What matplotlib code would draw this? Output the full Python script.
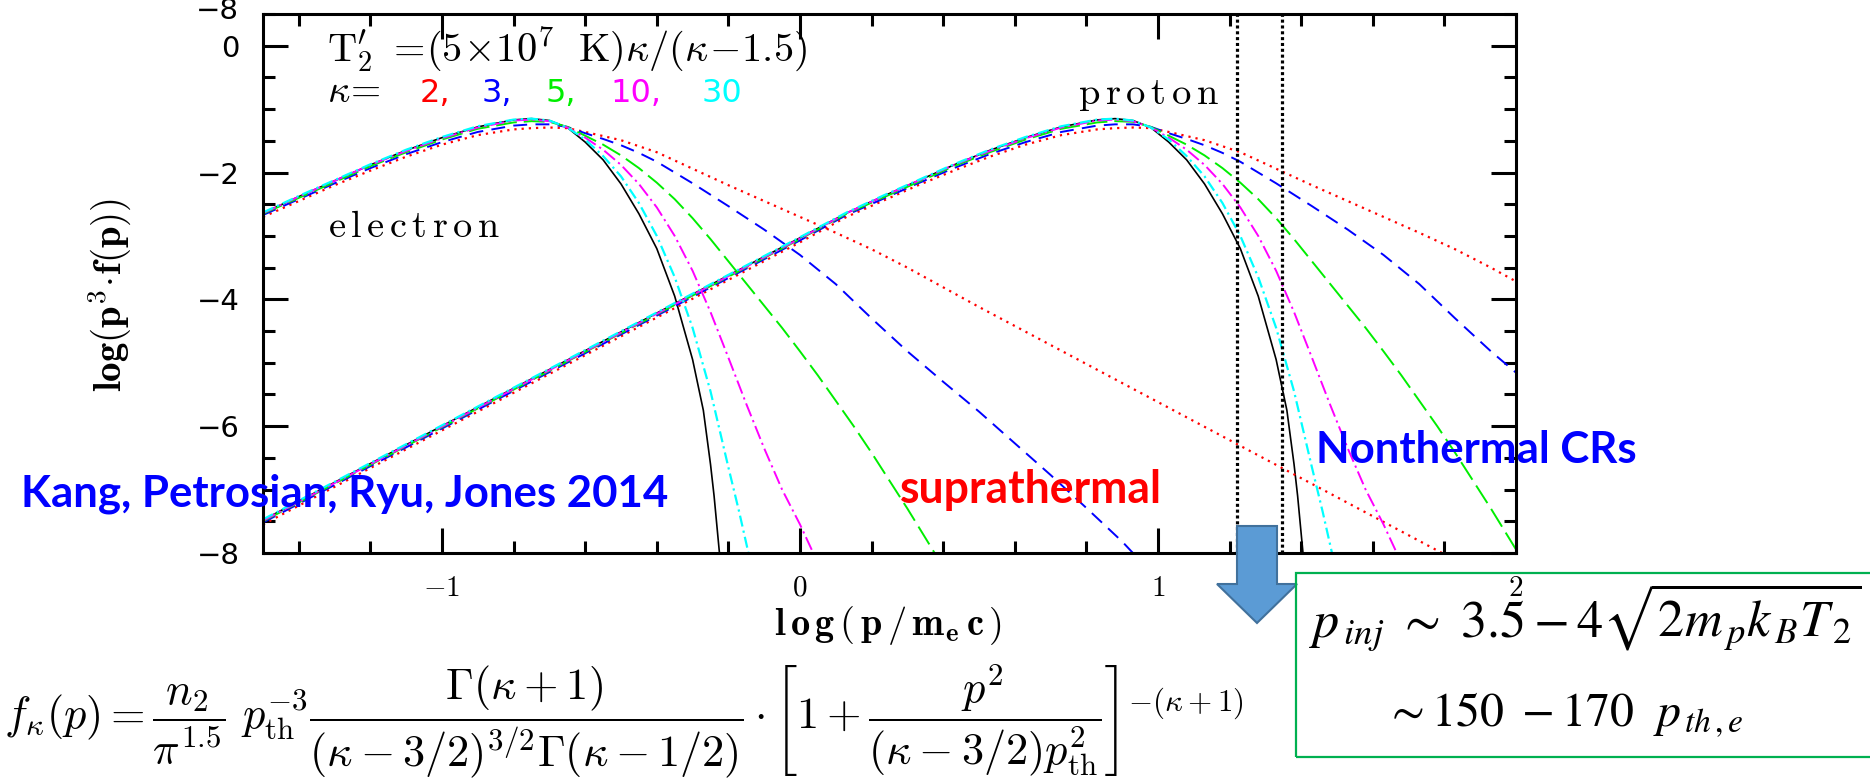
import matplotlib
matplotlib.use("Agg")
import matplotlib.pyplot as plt
from matplotlib.patches import Polygon, Rectangle
from matplotlib.ticker import MultipleLocator

plt.rcParams["mathtext.fontset"] = "cm"
plt.rcParams["lines.scale_dashes"] = False

# ---------------- data ----------------
XLIM = (-1.5, 2.0)
YLIM = (-8.0, 0.5)
XTICKS = [-1, 0, 1, 2]
XTICKLABELS = [r"$-1$", r"$0$", r"$1$", r"$2$"]
YTICKS = [-8, -6, -4, -2, 0]
YTICKLABELS = ["\u22128", "\u22126", "\u22124", "\u22122", "0"]
INJ_X = [1.22, 1.345]
KAPPAS = ["2,", "3,", "5,", "10,", "30"]

# electron curves
E_BLACK_X = [-1.5, -1.4, -1.3, -1.2, -1.1, -1.0, -0.9, -0.8, -0.75, -0.7, -0.65, -0.6, -0.55, -0.5, -0.45, -0.4, -0.35, -0.3, -0.27, -0.25, -0.24, -0.23, -0.22]
E_BLACK_Y = [-2.64, -2.38, -2.13, -1.88, -1.65, -1.45, -1.28, -1.17, -1.15, -1.18, -1.29, -1.52, -1.80, -2.18, -2.65, -3.20, -3.95, -4.95, -5.75, -6.60, -7.10, -7.70, -8.30]
E_CYAN_X = [-1.5, -1.4, -1.3, -1.2, -1.1, -1.0, -0.9, -0.8, -0.75, -0.7, -0.65, -0.6, -0.55, -0.5, -0.45, -0.4, -0.35, -0.3, -0.25, -0.2, -0.17, -0.144, -0.13]
E_CYAN_Y = [-2.63, -2.37, -2.12, -1.87, -1.64, -1.44, -1.27, -1.165, -1.15, -1.18, -1.29, -1.48, -1.74, -2.06, -2.48, -3.00, -3.65, -4.45, -5.45, -6.65, -7.35, -8.00, -8.40]
E_MAG_X = [-1.5, -1.4, -1.3, -1.2, -1.1, -1.0, -0.9, -0.8, -0.75, -0.7, -0.65, -0.6, -0.55, -0.5, -0.45, -0.4, -0.35, -0.3, -0.25, -0.2, -0.15, -0.1, -0.05, 0.0, 0.037, 0.06]
E_MAG_Y = [-2.64, -2.38, -2.13, -1.88, -1.66, -1.46, -1.29, -1.18, -1.165, -1.19, -1.29, -1.45, -1.64, -1.88, -2.18, -2.55, -3.00, -3.55, -4.20, -4.92, -5.65, -6.35, -7.00, -7.55, -8.00, -8.30]
E_GREEN_X = [-1.5, -1.4, -1.3, -1.2, -1.1, -1.0, -0.9, -0.8, -0.75, -0.7, -0.65, -0.6, -0.55, -0.5, -0.45, -0.4, -0.35, -0.3, -0.25, -0.2, -0.15, -0.1, -0.05, 0.0, 0.05, 0.1, 0.15, 0.2, 0.25, 0.3, 0.35, 0.376, 0.4]
E_GREEN_Y = [-2.65, -2.40, -2.15, -1.90, -1.68, -1.48, -1.31, -1.21, -1.19, -1.20, -1.28, -1.42, -1.56, -1.73, -1.93, -2.16, -2.42, -2.72, -3.05, -3.40, -3.75, -4.10, -4.45, -4.82, -5.20, -5.60, -6.00, -6.42, -6.86, -7.30, -7.76, -8.00, -8.22]
E_BLUE_X = [-1.5, -1.4, -1.3, -1.2, -1.1, -1.0, -0.9, -0.8, -0.75, -0.7, -0.65, -0.6, -0.55, -0.5, -0.45, -0.4, -0.3, -0.2, -0.1, 0.0, 0.1, 0.2, 0.3, 0.4, 0.5, 0.6, 0.7, 0.8, 0.9, 0.93, 0.96]
E_BLUE_Y = [-2.67, -2.42, -2.17, -1.93, -1.71, -1.52, -1.36, -1.26, -1.24, -1.24, -1.28, -1.38, -1.47, -1.57, -1.69, -1.83, -2.17, -2.53, -2.90, -3.30, -3.76, -4.30, -4.82, -5.30, -5.77, -6.27, -6.77, -7.29, -7.82, -8.00, -8.15]
E_RED_X = [-1.5, -1.4, -1.3, -1.2, -1.1, -1.0, -0.9, -0.8, -0.75, -0.7, -0.65, -0.6, -0.5, -0.4, -0.3, -0.2, -0.1, 0.0, 0.1, 0.2, 0.3, 0.4, 0.5, 0.6, 0.8, 1.0, 1.2, 1.4, 1.6, 1.8, 1.85]
E_RED_Y = [-2.70, -2.45, -2.20, -1.97, -1.75, -1.56, -1.41, -1.32, -1.30, -1.29, -1.30, -1.36, -1.49, -1.68, -1.94, -2.20, -2.45, -2.70, -2.95, -3.21, -3.50, -3.81, -4.12, -4.42, -5.02, -5.62, -6.22, -6.82, -7.42, -8.02, -8.17]

# proton curves
P_BLACK_X = [-1.5, -1.2, -0.9, -0.6, -0.3, 0.0, 0.13, 0.23, 0.33, 0.43, 0.53, 0.63, 0.73, 0.83, 0.88, 0.93, 0.98, 1.03, 1.08, 1.13, 1.18, 1.23, 1.28, 1.33, 1.36, 1.38, 1.39, 1.40, 1.41]
P_BLACK_Y = [-7.48, -6.59, -5.70, -4.81, -3.92, -3.03, -2.64, -2.38, -2.13, -1.88, -1.65, -1.45, -1.28, -1.17, -1.15, -1.18, -1.29, -1.52, -1.80, -2.18, -2.65, -3.20, -3.95, -4.95, -5.75, -6.60, -7.10, -7.70, -8.30]
P_CYAN_X = [-1.5, -1.2, -0.9, -0.6, -0.3, 0.0, 0.13, 0.23, 0.33, 0.43, 0.53, 0.63, 0.73, 0.83, 0.88, 0.93, 0.98, 1.03, 1.08, 1.13, 1.18, 1.23, 1.28, 1.33, 1.38, 1.43, 1.46, 1.486, 1.50]
P_CYAN_Y = [-7.47, -6.58, -5.69, -4.80, -3.91, -3.02, -2.63, -2.37, -2.12, -1.87, -1.64, -1.44, -1.27, -1.165, -1.15, -1.18, -1.29, -1.48, -1.74, -2.06, -2.48, -3.00, -3.65, -4.45, -5.45, -6.65, -7.35, -8.00, -8.40]
P_MAG_X = [-1.5, -1.2, -0.9, -0.6, -0.3, 0.0, 0.13, 0.23, 0.33, 0.43, 0.53, 0.63, 0.73, 0.83, 0.88, 0.93, 0.98, 1.03, 1.08, 1.13, 1.18, 1.23, 1.28, 1.33, 1.38, 1.43, 1.48, 1.53, 1.58, 1.63, 1.667, 1.69]
P_MAG_Y = [-7.49, -6.60, -5.71, -4.82, -3.93, -3.04, -2.64, -2.38, -2.13, -1.88, -1.66, -1.46, -1.29, -1.18, -1.165, -1.19, -1.29, -1.45, -1.64, -1.88, -2.18, -2.55, -3.00, -3.55, -4.20, -4.92, -5.65, -6.35, -7.00, -7.55, -8.00, -8.30]
P_GREEN_X = [-1.5, -1.2, -0.9, -0.6, -0.3, 0.0, 0.13, 0.23, 0.33, 0.43, 0.53, 0.63, 0.73, 0.83, 0.88, 0.93, 0.98, 1.03, 1.08, 1.13, 1.18, 1.23, 1.28, 1.33, 1.38, 1.43, 1.48, 1.53, 1.58, 1.63, 1.68, 1.73, 1.78, 1.83, 1.88, 1.93, 1.98, 2.006, 2.03]
P_GREEN_Y = [-7.50, -6.61, -5.72, -4.83, -3.94, -3.05, -2.65, -2.40, -2.15, -1.90, -1.68, -1.48, -1.31, -1.21, -1.19, -1.20, -1.28, -1.42, -1.56, -1.73, -1.93, -2.16, -2.42, -2.72, -3.05, -3.40, -3.75, -4.10, -4.45, -4.82, -5.20, -5.60, -6.00, -6.42, -6.86, -7.30, -7.76, -8.00, -8.22]
P_BLUE_X = [-1.5, -1.2, -0.9, -0.6, -0.3, 0.0, 0.13, 0.23, 0.33, 0.43, 0.53, 0.63, 0.73, 0.83, 0.88, 0.93, 0.98, 1.03, 1.08, 1.13, 1.18, 1.23, 1.33, 1.43, 1.53, 1.63, 1.73, 1.83, 1.93, 2.03]
P_BLUE_Y = [-7.52, -6.63, -5.74, -4.85, -3.96, -3.07, -2.67, -2.42, -2.17, -1.93, -1.71, -1.52, -1.36, -1.26, -1.24, -1.24, -1.28, -1.38, -1.47, -1.57, -1.69, -1.83, -2.17, -2.53, -2.90, -3.30, -3.76, -4.30, -4.82, -5.30]
P_RED_X = [-1.5, -1.2, -0.9, -0.6, -0.3, 0.0, 0.13, 0.23, 0.33, 0.43, 0.53, 0.63, 0.73, 0.83, 0.88, 0.93, 0.98, 1.03, 1.13, 1.23, 1.33, 1.43, 1.53, 1.63, 1.73, 1.83, 1.93, 2.03]
P_RED_Y = [-7.55, -6.66, -5.77, -4.88, -3.99, -3.10, -2.70, -2.45, -2.20, -1.97, -1.75, -1.56, -1.41, -1.32, -1.30, -1.29, -1.30, -1.36, -1.49, -1.68, -1.94, -2.20, -2.45, -2.70, -2.95, -3.21, -3.50, -3.81]

# ---------------- figure ----------------
W, H = 1870, 781
fig = plt.figure(figsize=(W / 100, H / 100), dpi=100)
fig.patch.set_facecolor("white")


def fx(px):
    return px / W


def fy(py):
    return 1 - py / H


ax = fig.add_axes([fx(263), fy(553), (1516 - 263) / W, (553 - 14) / H])
ax.set_xlim(*XLIM)
ax.set_ylim(*YLIM)

styles = {
    "black": dict(color="black", lw=1.2, ls="-"),
    "red": dict(color="#FF0000", lw=1.6, dashes=(1.6, 3.6)),
    "blue": dict(color="#0000FF", lw=1.4, dashes=(10, 6)),
    "green": dict(color="#00EE00", lw=1.4, dashes=(15, 5)),
    "mag": dict(color="#FF00FF", lw=1.4, dashes=(10, 3, 1.6, 3)),
    "cyan": dict(color="#00FFFF", lw=1.6, dashes=(8, 3, 1.6, 3)),
}
curves = [
    ("black", E_BLACK_X, E_BLACK_Y, P_BLACK_X, P_BLACK_Y),
    ("red", E_RED_X, E_RED_Y, P_RED_X, P_RED_Y),
    ("blue", E_BLUE_X, E_BLUE_Y, P_BLUE_X, P_BLUE_Y),
    ("green", E_GREEN_X, E_GREEN_Y, P_GREEN_X, P_GREEN_Y),
    ("mag", E_MAG_X, E_MAG_Y, P_MAG_X, P_MAG_Y),
    ("cyan", E_CYAN_X, E_CYAN_Y, P_CYAN_X, P_CYAN_Y),
]
for name, ex, ey, px, py in curves:
    ax.plot(ex, ey, **styles[name])
    ax.plot(px, py, **styles[name])

for xv in INJ_X:
    ax.axvline(xv, color="black", lw=2.3, dashes=(2.2, 2.0))

# axes styling
for sp in ax.spines.values():
    sp.set_linewidth(2.2)
ax.set_xticks(XTICKS)
ax.set_xticklabels(XTICKLABELS)
ax.set_yticks(YTICKS)
ax.set_yticklabels(YTICKLABELS, fontfamily="DejaVu Sans")
ax.xaxis.set_minor_locator(MultipleLocator(0.2))
ax.yaxis.set_minor_locator(MultipleLocator(0.5))
ax.tick_params(which="both", direction="in", top=True, right=True, width=2.2)
ax.tick_params(which="major", length=18)
ax.tick_params(which="minor", length=8.5)
ax.tick_params(axis="x", which="major", labelsize=21, pad=15)
ax.tick_params(axis="y", which="major", labelsize=21, pad=17)

renderer = fig.canvas.get_renderer()


def fit(t, target, iters=2):
    for _ in range(iters):
        bb = t.get_window_extent(renderer)
        if bb.width > 0:
            t.set_fontsize(t.get_fontsize() * target / bb.width)


# clipped tick label of the panel above
fig.text(fx(239), fy(8), "\u22128", fontfamily="DejaVu Sans", fontsize=21,
         ha="right", va="center_baseline")

# axis labels
ax.set_ylabel(r"$\mathbf{log(p^3\!\cdot\!f(p))}$", fontsize=28)
ax.yaxis.set_label_coords(fx(134 - 263) / ((1516 - 263) / W), (553 - 295) / (553 - 14))
xl = fig.text(fx(888), fy(635), r"$\mathbf{l\,o\,g\,(\,p\,/\,m_e\,c\,)}$",
              ha="center", va="baseline", fontsize=21)
fit(xl, 228)

# in-plot annotations
t1 = fig.text(fx(327), fy(62), r"$\mathrm{T}^{\prime}_{2}\ =\!(5\!\times\!10^{7}\ \ \mathrm{K})\kappa/(\kappa\!-\!1.5)$",
              ha="left", va="baseline", fontsize=24)
fit(t1, 480)
fig.text(fx(327), fy(102), r"$\kappa\!=$", ha="left", va="baseline", fontsize=28)
kx = [420, 482, 545, 610, 702]
kc = ["#FF0000", "#0000FF", "#00EE00", "#FF00FF", "#00FFFF"]
for lab, xp, c in zip(KAPPAS, kx, kc):
    fig.text(fx(xp), fy(102), lab, color=c, ha="left", va="baseline", fontsize=23,
             fontfamily="DejaVu Sans")
te = fig.text(fx(328), fy(237), r"$\mathrm{e\,l\,e\,c\,t\,r\,o\,n}$", ha="left", va="baseline", fontsize=26)
fit(te, 172)
tp = fig.text(fx(1078), fy(104), r"$\mathrm{p\,r\,o\,t\,o\,n}$", ha="left", va="baseline", fontsize=26)
fit(tp, 141)

# overlaid slide annotations
kang = fig.text(fx(21), fy(507), "Kang, Petrosian, Ryu, Jones 2014", color="#0000FF",
                fontfamily="Lato", fontweight="bold", ha="left", va="baseline", fontsize=28)
fit(kang, 647)
sup = fig.text(fx(900), fy(503), "suprathermal", color="#FF0000",
               fontfamily="Lato", fontweight="bold", ha="left", va="baseline", fontsize=28)
fit(sup, 262)
non = fig.text(fx(1316), fy(463), "Nonthermal CRs", color="#0000FF",
               fontfamily="Lato", fontweight="bold", ha="left", va="baseline", fontsize=28)
fit(non, 321)

# arrow
arrow_px = [(1237, 526), (1277, 526), (1277, 584), (1297, 584), (1257, 623), (1217, 584), (1237, 584)]
fig.patches.append(Polygon([(fx(a), fy(b)) for a, b in arrow_px], closed=True,
                           transform=fig.transFigure, facecolor="#5B9BD5",
                           edgecolor="#41719C", lw=1.5, zorder=5))

# green box with injection momentum
fig.patches.append(Rectangle((fx(1296), fy(757)), fx(1880) - fx(1296), fy(573) - fy(757),
                             transform=fig.transFigure, facecolor="none",
                             edgecolor="#00B050", lw=1.6, zorder=5))
b1 = fig.text(fx(1309), fy(637), r"$p_{\,inj}\ \sim\ 3.5-4\sqrt{2m_{\,p}k_{\,B}T_{\,2}}$",
              ha="left", va="baseline", fontsize=34, math_fontfamily="stix")
fit(b1, 553)
b2 = fig.text(fx(1385), fy(727), r"$\sim150\ -170\ \ p_{\,th\,,e}$",
              ha="left", va="baseline", fontsize=34, math_fontfamily="stix")
fit(b2, 359)

# kappa distribution formula
fm = fig.text(fx(4), fy(722),
              r"$f_\kappa(p)=\dfrac{n_2}{\pi^{1.5}}\ p_{\rm th}^{-3}\dfrac{\Gamma(\kappa+1)}{(\kappa-3/2)^{3/2}\Gamma(\kappa-1/2)}"
              r"\cdot\left[1+\dfrac{p^2}{(\kappa-3/2)p_{\rm th}^2}\right]^{-(\kappa+1)}$",
              ha="left", va="center", fontsize=22)
fit(fm, 1240)

fig.savefig("out.png", dpi=100)
